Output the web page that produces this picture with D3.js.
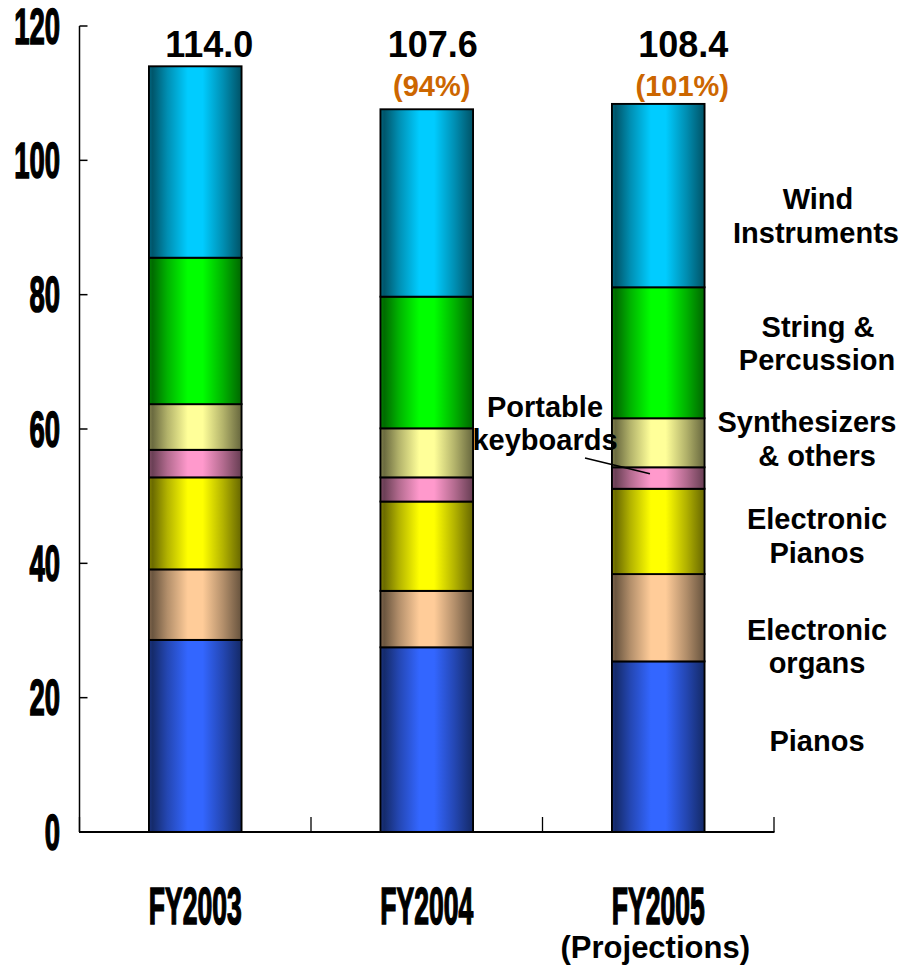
<!DOCTYPE html>
<html>
<head>
<meta charset="utf-8">
<script src="https://cdn.jsdelivr.net/npm/d3@7/dist/d3.min.js"></script>
<style>
  html, body { margin: 0; padding: 0; background: #fff; }
  svg { display: block; }
  text { font-family: "Liberation Sans", Arial, sans-serif; font-weight: bold; }
</style>
</head>
<body>
<svg id="chart" width="900" height="969"></svg>
<script>
// Musical instrument sales by category (stacked, bottom to top)
const categories = ["FY2003", "FY2004", "FY2005"];
const categoryNotes = ["", "", "(Projections)"];
const seriesNames = ["Pianos", "Electronic organs", "Electronic Pianos", "Portable keyboards",
                     "Synthesizers & others", "String & Percussion", "Wind Instruments"];
const pianos            = [28.6, 27.5, 25.4];
const electronicOrgans  = [10.5,  8.4, 13.0];
const electronicPianos  = [13.7, 13.3, 12.7];
const portableKeyboards = [ 4.1,  3.6,  3.2];
const synthesizers      = [ 6.8,  7.3,  7.3];
const stringPercussion  = [21.8, 19.6, 19.5];
const windInstruments   = [28.5, 27.9, 27.3];
const yTicks = [0, 20, 40, 60, 80, 100, 120];

const seriesValues = [pianos, electronicOrgans, electronicPianos, portableKeyboards,
                      synthesizers, stringPercussion, windInstruments];
const seriesColors = ["#3366FF", "#FFCC99", "#FFFF00", "#FF99CC", "#FFFF99", "#00FF00", "#00CCFF"];

// Series label lines on the right: [text, centre x, baseline y]
const sideLabels = [
  [["Wind", 818, 209], ["Instruments", 816, 243]],
  [["String &", 818, 337], ["Percussion", 817, 370]],
  [["Synthesizers", 807, 432], ["& others", 817, 466]],
  [["Electronic", 817, 529], ["Pianos", 817, 563]],
  [["Electronic", 817, 640], ["organs", 817, 673]],
  [["Pianos", 817, 751]]
];

const table = categories.map((c, i) => {
  const row = { category: c };
  seriesNames.forEach((s, k) => { row[s] = seriesValues[k][i]; });
  return row;
});
const stacked = d3.stack().keys(seriesNames)(table);
const totals = categories.map((c, i) => d3.sum(seriesValues, v => v[i]));

const svg = d3.select("#chart");
const x = d3.scaleBand().domain(categories).range([79.5, 774]).paddingInner(0.6).paddingOuter(0.3);
const y = d3.scaleLinear().domain([0, 120]).range([832, 26]);

// Horizontal shading gradients: dark edges, bright middle
const defs = svg.append("defs");
seriesColors.forEach((col, k) => {
  const base = d3.rgb(col);
  const shade = f => d3.rgb(base.r * f, base.g * f, base.b * f).toString();
  const g = defs.append("linearGradient").attr("id", "grad" + k)
    .attr("x1", "0%").attr("x2", "100%").attr("y1", "0%").attr("y2", "0%");
  [[0, 0.5], [0.04, 0.42], [0.2, 0.7], [0.42, 1], [0.58, 1], [0.8, 0.7], [1, 0.4]]
    .forEach(([o, f]) => g.append("stop").attr("offset", o).attr("stop-color", shade(f)));
});

// Stacked bars
stacked.forEach((layer, k) => {
  svg.append("g").selectAll("rect").data(layer).join("rect")
    .attr("x", d => x(d.data.category))
    .attr("width", x.bandwidth())
    .attr("y", d => y(d[1]))
    .attr("height", d => y(d[0]) - y(d[1]))
    .attr("fill", `url(#grad${k})`)
    .attr("stroke", "#000")
    .attr("stroke-width", 1.9);
});

// Y axis with inward ticks and condensed labels
const yAxis = svg.append("g");
yAxis.append("line").attr("x1", 79.5).attr("x2", 79.5).attr("y1", y(120)).attr("y2", y(0))
  .attr("stroke", "#000").attr("stroke-width", 1.5);
yTicks.forEach(t => {
  yAxis.append("line").attr("x1", 79.5).attr("x2", 87.5).attr("y1", y(t)).attr("y2", y(t))
    .attr("stroke", "#000").attr("stroke-width", 1.5);
  yAxis.append("g").attr("transform", `translate(60,${y(t) + 17.5}) scale(0.56,1)`)
    .append("text").attr("text-anchor", "end").attr("font-size", 49).attr("fill", "#000")
    .attr("stroke", "#000").attr("stroke-width", 1.6)
    .text(t);
});

// X axis with category dividers
const xAxis = svg.append("g");
xAxis.append("line").attr("x1", 79).attr("x2", 774.5).attr("y1", y(0)).attr("y2", y(0))
  .attr("stroke", "#000").attr("stroke-width", 2.2);
[0, 1, 2, 3].forEach(i => {
  const xx = 79.5 + i * (774 - 79.5) / 3;
  xAxis.append("line").attr("x1", xx).attr("x2", xx).attr("y1", y(0)).attr("y2", y(0) - 15)
    .attr("stroke", "#000").attr("stroke-width", 1.3);
});
categories.forEach((c, i) => {
  const cx = x(c) + x.bandwidth() / 2;
  xAxis.append("g").attr("transform", `translate(${cx},924) scale(0.52,1)`)
    .append("text").attr("text-anchor", "middle").attr("font-size", 51).attr("fill", "#000")
    .attr("stroke", "#000").attr("stroke-width", 1.6)
    .text(c);
  if (categoryNotes[i]) {
    xAxis.append("text").attr("x", cx - 3).attr("y", 958).attr("text-anchor", "middle")
      .attr("font-size", 31).attr("fill", "#000").text(categoryNotes[i]);
  }
});

// Totals and year-on-year ratios above the bars
const totalDx = [14, 6, 25];
categories.forEach((c, i) => {
  const cx = x(c) + x.bandwidth() / 2 + totalDx[i];
  svg.append("text").attr("x", cx).attr("y", 57).attr("text-anchor", "middle")
    .attr("font-size", 36).attr("fill", "#000").text(totals[i].toFixed(1));
  if (i > 0) {
    const pct = Math.round(totals[i] / totals[i - 1] * 100);
    svg.append("text").attr("x", cx - 1).attr("y", 96).attr("text-anchor", "middle")
      .attr("font-size", 29).attr("fill", "#CC6600").text(`(${pct}%)`);
  }
});

// Series names on the right
sideLabels.forEach(lines => lines.forEach(([t, lx, ly]) => {
  svg.append("text").attr("x", lx).attr("y", ly).attr("text-anchor", "middle")
    .attr("font-size", 29).attr("fill", "#000").text(t);
}));

// Callout for the thin portable keyboard band
const pk = stacked[3][2];
svg.append("text").attr("x", 545).attr("y", 417).attr("text-anchor", "middle")
  .attr("font-size", 29).attr("fill", "#000").text("Portable");
svg.append("text").attr("x", 545).attr("y", 450).attr("text-anchor", "middle")
  .attr("font-size", 29).attr("fill", "#000").text("keyboards");
svg.append("line")
  .attr("x1", 585).attr("y1", 458)
  .attr("x2", x("FY2005") + x.bandwidth() * 0.41)
  .attr("y2", y(pk[0] + (pk[1] - pk[0]) * 0.7))
  .attr("stroke", "#000").attr("stroke-width", 1.6);
</script>
</body>
</html>
